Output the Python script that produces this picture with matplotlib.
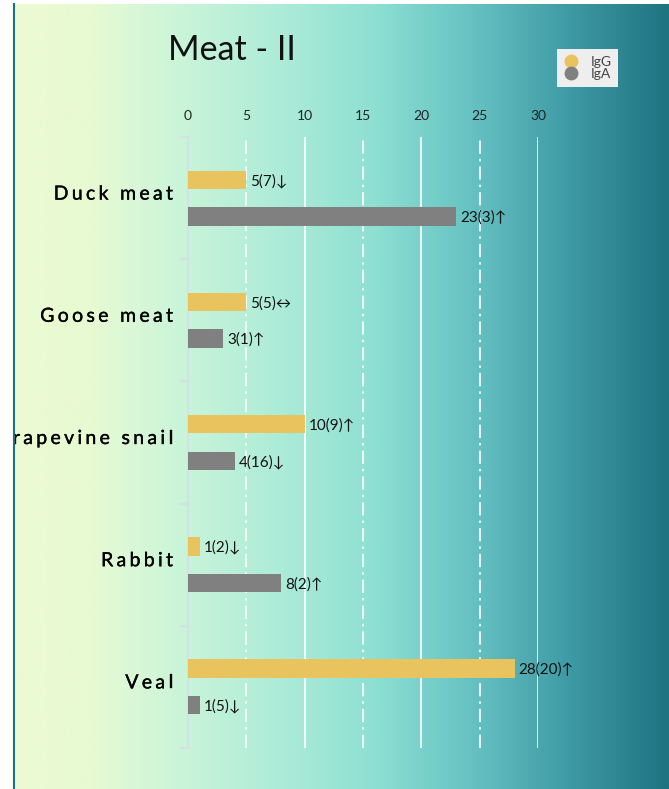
import matplotlib
matplotlib.use("Agg")
import matplotlib.pyplot as plt
import matplotlib.patheffects as pe
import numpy as np
from matplotlib.colors import LinearSegmentedColormap
from matplotlib.lines import Line2D
from matplotlib.transforms import Bbox
from matplotlib.font_manager import findfont, FontProperties
from matplotlib.ft2font import FT2Font

# data
categories = ["Duck meat", "Goose meat", "Grapevine snail", "Rabbit", "Veal"]
igg = [5, 5, 10, 1, 28]
iga = [23, 3, 4, 8, 1]
igg_labels = ["5(7)↓", "5(5)↔", "10(9)↑", "1(2)↓", "28(20)↑"]
iga_labels = ["23(3)↑", "3(1)↑", "4(16)↓", "8(2)↑", "1(5)↓"]
xticks = [0, 5, 10, 15, 20, 25, 30]

W, H = 669, 789
fig = plt.figure(figsize=(W / 100, H / 100), dpi=100, facecolor="white")
fams = ["Lato", "DejaVu Sans"]

# gradient background
bg = fig.add_axes([13 / W, 0, 1 - 13 / W, 1 - 4 / H], zorder=-10)
cmap = LinearSegmentedColormap.from_list("bg", [
	(0.0, "#ecfad2"), (0.12, "#e7fad3"), (0.25, "#cbf5d9"), (0.40, "#aeecd8"),
	(0.55, "#8ee0d3"), (0.70, "#66c2c2"), (0.85, "#3e9aa5"), (1.0, "#1f7482")])
bg.imshow(np.linspace(0, 1, 512)[None, :], aspect="auto", cmap=cmap, extent=[0, 1, 0, 1])
bg.axis("off")
fig.add_artist(Line2D([13.5 / W, 13.5 / W], [0, 1 - 4 / H], color="#1d7080", lw=1.5))

# main axes
ax = fig.add_axes([188 / W, 1 - 748 / H, 350 / W, 611 / H])
ax.patch.set_alpha(0)
y = np.arange(len(categories))
h = 0.15
ax.barh(y - 0.15, igg, height=h, color="#e9c35e", label="IgG", zorder=3)
ax.barh(y + 0.15, iga, height=h, color="#808080", label="IgA", zorder=3)

for i in range(len(categories)):
	ax.text(igg[i] + 0.35, y[i] - 0.14, igg_labels[i], va="center", ha="left",
		fontsize=11, family=fams, color="#111111", clip_on=False)
	ax.text(iga[i] + 0.35, y[i] + 0.16, iga_labels[i], va="center", ha="left",
		fontsize=11, family=fams, color="#111111", clip_on=False)

ax.set_xlim(0, 30)
ax.set_ylim(len(categories) - 0.5, -0.5)
ax.xaxis.tick_top()
ax.set_xticks(xticks)
ax.tick_params(axis="x", length=0, pad=11, labelsize=10, labelcolor="#222222")
for lab in ax.get_xticklabels():
	lab.set_family(fams)
ax.set_yticks(np.arange(-0.5, len(categories), 1.0))
ax.set_yticklabels([])
ax.tick_params(axis="y", length=6, width=1.5, color="#d3e2e2", direction="out")
for s in ["top", "right", "bottom"]:
	ax.spines[s].set_visible(False)
ax.spines["left"].set_color("#d3e2e2")
ax.spines["left"].set_linewidth(1.5)

# gridlines: dash-dot at odd multiples of 5, solid at even
for t in xticks[1:]:
	if t % 10 == 5:
		ax.axvline(t, color="white", lw=1.2, linestyle=(0, (8, 3, 1.5, 3)), zorder=1)
	else:
		ax.axvline(t, color="white", lw=1.2, zorder=1)

# category labels with letter spacing
fsize = 14
font = FT2Font(findfont(FontProperties(family="Lato")))
font.set_size(fsize, 100)
spacing = 3.3
clip = Bbox.from_extents(14.5, 0, W, H)
for i, name in enumerate(categories):
	adv = []
	for c in name:
		g = font.load_char(ord(c))
		adv.append(g.linearHoriAdvance / 65536 + spacing)
	total = sum(adv) - spacing
	x = 173 - total
	ypix = H - (137 + 122.2 * (i + 0.5)) + 4
	for c, a in zip(name, adv):
		t = fig.text(x / W, ypix / H, c, fontsize=fsize, family=fams, color="#000000",
			ha="left", va="center",
			path_effects=[pe.withStroke(linewidth=0.25, foreground="#000000")])
		t.set_clip_box(clip)
		t.set_clip_on(True)
		x += a

# title
fig.text(168 / W, 1 - 50 / H, "Meat - II", fontsize=24.5, family=fams, color="#111111",
	ha="left", va="center")

# legend
fig.legend(handles=[
	Line2D([], [], marker="o", ls="none", color="#e9c35e", markersize=9, label="IgG"),
	Line2D([], [], marker="o", ls="none", color="#808080", markersize=9, label="IgA")],
	loc="upper left", bbox_to_anchor=(557 / W, 1 - 49 / H), frameon=True,
	facecolor="#eeeeee", edgecolor="none", fancybox=False, framealpha=1,
	prop={"family": fams, "size": 10}, labelcolor="#444444", borderpad=0.5,
	handletextpad=0.9, labelspacing=0.0, handlelength=1.0, borderaxespad=0)

fig.savefig("out.png", dpi=100)
